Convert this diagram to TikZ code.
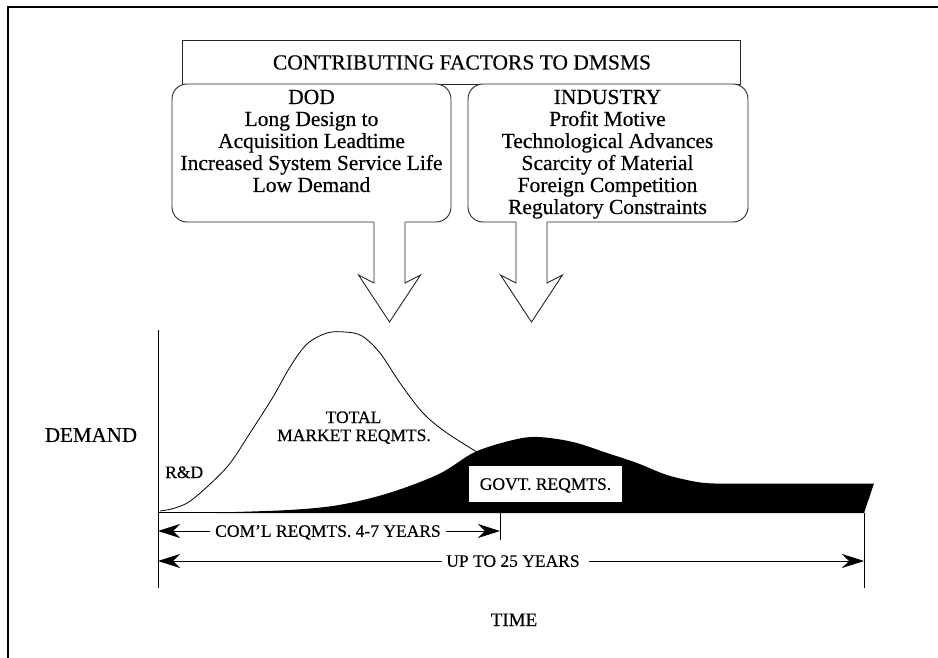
\documentclass[tikz,border=0pt]{standalone}
\usepackage{fontspec}
\setmainfont{Liberation Serif}[FakeBold=0.45]
\usetikzlibrary{arrows.meta}

\begin{document}
\begin{tikzpicture}[x=1pt,y=-1pt,
  boxline/.style={draw=black!85, line width=0.9pt},
  roundbox/.style={boxline, fill=white, rounded corners=15pt, inner sep=0pt},
  boxtext/.style={font=\fontsize{21.5}{22}\selectfont, anchor=base, inner sep=0pt},
  charttext/.style={font=\fontsize{17.5}{19}\selectfont, inner ysep=0pt, inner xsep=5pt,
                    text height=11.6pt, text depth=0pt},
  bigtext/.style={font=\fontsize{21}{22}\selectfont, inner sep=0pt,
                  text height=13.9pt, text depth=0pt},
  thinline/.style={line width=0.8pt},
  dimline/.style={thinline, -{Stealth[length=22pt,width=14pt,inset=7pt]}},
  blockarrow/.style={boxline, line join=miter},
]
\useasboundingbox (0,0) rectangle (938,658);

% outer frame (top and left edges)
\draw[line width=2pt] (7.5,658) -- (7.5,7.5) -- (938,7.5);

% heading box
\node[boxline, minimum width=558pt, minimum height=44pt, inner sep=0pt] (head) at (461,62) {};
\node[boxtext] (headtxt) at (462,69.5) {CONTRIBUTING FACTORS TO DMSMS};

% factor boxes
\node[roundbox, minimum width=279pt, minimum height=138pt] (dod) at (311.5,153) {};
\node[roundbox, minimum width=280pt, minimum height=138pt] (ind) at (608,153) {};

\foreach \t [count=\i] in {DOD, Long Design to, Acquisition Leadtime,
                           Increased System Service Life, Low Demand}
  \node[boxtext] (dod\i) at (311.5,{82+22*\i}) {\t};
\foreach \t [count=\i] in {INDUSTRY, Profit Motive, Technological Advances,
                           Scarcity of Material, Foreign Competition, Regulatory Constraints}
  \node[boxtext] (ind\i) at (607.5,{82+22*\i}) {\t};

% hollow block arrows below the boxes
\foreach \c/\nm in {389.5/a, 531.5/b} {
  \fill[white] (\c-15.5,220.8) -- (\c-15.5,283) -- (\c-31,275) -- (\c,322)
               -- (\c+31,275) -- (\c+15.5,283) -- (\c+15.5,220.8) -- cycle;
  \draw[blockarrow] (\c-15.5,222) -- (\c-15.5,283) -- (\c-31,275) -- (\c,322)
               -- (\c+31,275) -- (\c+15.5,283) -- (\c+15.5,222);
  \coordinate (tip\nm) at (\c,322);
}

% axes and reference lines
\coordinate (ytop) at (158,330);
\coordinate (orig) at (158,512.5);
\coordinate (ybot) at (158,588);
\coordinate (rend) at (864,512.5);
\coordinate (rbot) at (864,588);
\coordinate (tick) at (500,512.5);
\coordinate (tickb) at (500,540);
\draw[thinline] (ytop) -- (ybot);
\draw[thinline] (orig) -- (rend);
\draw[thinline] (rend) -- (rbot);
\draw[thinline] (tick) -- (tickb);

% total market requirements curve
\draw[thinline] plot[smooth, tension=0.55] coordinates {
  (160,511) (175,508) (193,499) (227,467) (250,433) (273,397) (290,367)
  (307,344) (327,333) (345,332) (362,336) (380,353) (400,383) (423,413) (447,433) (485,457)};

% government requirements (filled)
\fill[black] plot[smooth, tension=0.55] coordinates {
  (217,512.5) (289,510) (339,505) (389,493) (439,474) (475,452) (513,440)
  (538,437) (573,442) (607,453) (637,463) (667,475) (697,482) (715,483.5)}
  -- (874,483.5) -- (864,513) -- (217,513) -- cycle;

\node[fill=white, minimum width=153pt, minimum height=36pt, inner sep=0pt] (govtbox) at (545.5,484) {};
\node[charttext] (govt) at (545.5,484) {GOVT. REQMTS.};

% labels
\node[charttext] (total) at (353.5,417.2) {TOTAL};
\node[charttext] (market) at (354,435.2) {MARKET REQMTS.};
\node[charttext, anchor=west, inner xsep=0pt] (rd) at (165,472.2) {R\&D};
\node[bigtext] (demand) at (91,435) {DEMAND};
\node[charttext, font=\fontsize{19}{20}\selectfont, text height=12.6pt] (time) at (514,619.7) {TIME};

% time spans
\node[charttext] (coml) at (328,531) {COM'L REQMTS. 4-7 YEARS};
\coordinate (c0) at (158,531);
\coordinate (c1) at (500,531);
\draw[dimline] (coml.west) -- (c0);
\draw[dimline] (coml.east) -- (c1);

\node[charttext, inner xsep=4pt] (up) at (513,561) {UP TO 25 YEARS};
\coordinate (u0) at (158,561);
\coordinate (u1) at (864,561);
\draw[dimline] (up.west) -- (u0);
\draw[dimline] ([xshift=5pt]up.east) -- (u1);
\end{tikzpicture}
\end{document}
